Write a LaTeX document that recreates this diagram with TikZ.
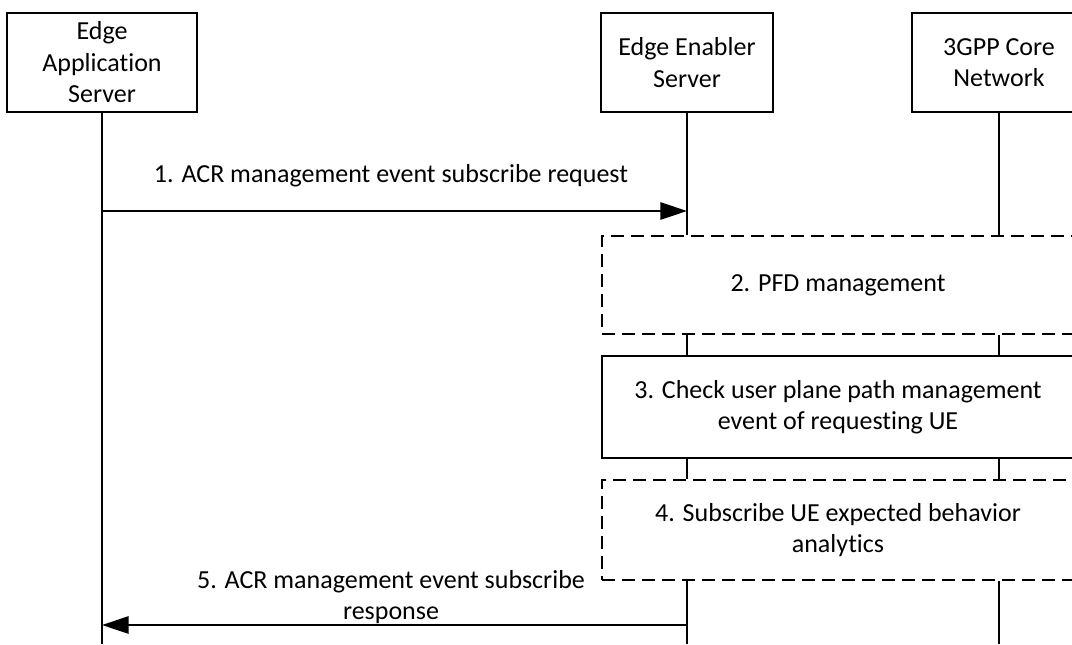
\documentclass[tikz,border=0pt]{standalone}
\usepackage{fontspec}
\setmainfont{Carlito}[Ligatures=NoCommon]
\usetikzlibrary{positioning,arrows.meta}

\begin{document}
\begin{tikzpicture}[x=0.75pt,y=-0.75pt,line width=1.5pt,font=\fontsize{19.5}{23.6}\selectfont]
  \tikzstyle{actor}=[draw,minimum height=74.25pt,align=center,inner sep=0pt]
  \tikzstyle{stepbox}=[draw,minimum width=354pt,align=center,inner sep=0pt]
  \tikzstyle{opt}=[stepbox,dash pattern=on 10pt off 5pt]
  \tikzstyle{msg}=[-{Triangle[length=20pt,width=13pt]}]
  \useasboundingbox (0,0) rectangle (1072,644);
  % actors
  \node[actor,minimum width=142.5pt] (as) at (102,62.5) {Edge\\Application\\Server};
  \node[actor,minimum width=129pt] (ees) at (687,62.5) {Edge Enabler\\Server};
  \node[actor,minimum width=130.5pt] (cn) at (999,62.5) {3GPP Core\\Network};
  % steps
  \node[opt,minimum height=73.5pt] (s2) at (838,285) {2. PFD management};
  \node[stepbox,minimum height=76.5pt,below=15pt of s2] (s3) {3. Check user plane path management\\event of requesting UE};
  \node[opt,minimum height=75pt,below=15pt of s3] (s4) {4. Subscribe UE expected behavior\\analytics};
  % lifelines
  \coordinate (asend) at (102,644);
  \draw (as.south) -- (asend);
  \foreach \l in {ees,cn} {
    \draw (\l.south) -- (\l.south |- s2.north);
    \draw (\l.south |- s2.south) -- (\l.south |- s3.north);
    \draw (\l.south |- s3.south) -- (\l.south |- s4.north);
    \draw (\l.south |- s4.south) -- (\l.south |- asend);
  }
  % messages
  \coordinate (m1a) at (102,211);
  \coordinate (m1b) at (687,211);
  \coordinate (m5a) at (687,625);
  \coordinate (m5b) at (102,625);
  \draw[msg] (m1a) -- (m1b);
  \node (l1) at (391,176) {1. ACR management event subscribe request};
  \draw[msg] (m5a) -- (m5b);
  \node[align=center] (l5) at (391,597) {5. ACR management event subscribe\\response};
\end{tikzpicture}
\end{document}
